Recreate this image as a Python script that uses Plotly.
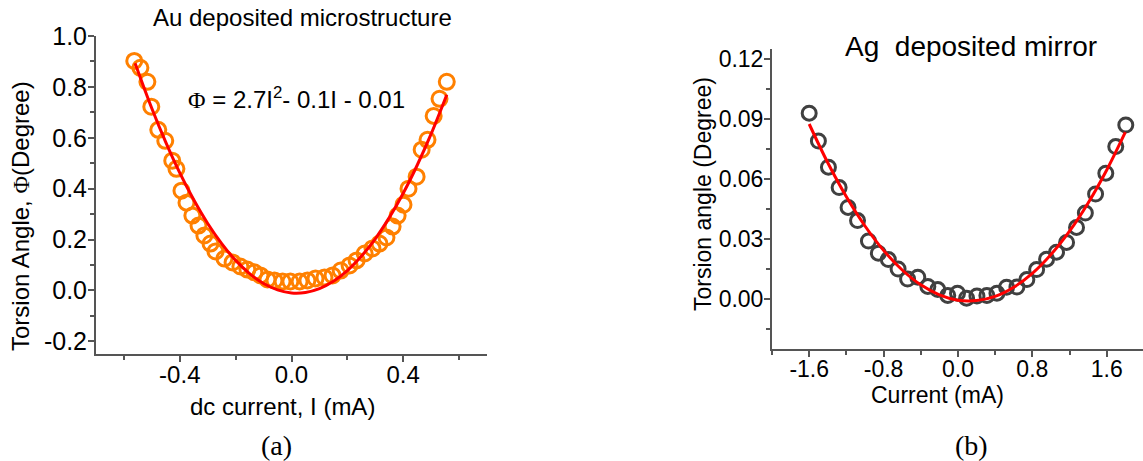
import plotly.graph_objects as go

W, H = 1143, 461

# ---------------- data: (a) Au deposited microstructure ----------------
au_current = [-0.563, -0.541, -0.516, -0.502, -0.477, -0.452, -0.427, -0.412, -0.394, -0.376,
              -0.355, -0.333, -0.312, -0.290, -0.272, -0.240, -0.211, -0.183, -0.158, -0.133,
              -0.111, -0.086, -0.061, -0.032, -0.004, 0.029, 0.057, 0.086, 0.118, 0.147,
              0.176, 0.208, 0.233, 0.262, 0.290, 0.315, 0.340, 0.362, 0.380, 0.401,
              0.419, 0.448, 0.466, 0.487, 0.509, 0.530, 0.556]
au_angle = [0.902, 0.875, 0.820, 0.722, 0.631, 0.588, 0.510, 0.478, 0.392, 0.345,
            0.294, 0.255, 0.216, 0.184, 0.153, 0.125, 0.110, 0.094, 0.082, 0.071,
            0.059, 0.043, 0.039, 0.035, 0.035, 0.035, 0.039, 0.047, 0.051, 0.059,
            0.078, 0.098, 0.118, 0.145, 0.165, 0.184, 0.208, 0.251, 0.294, 0.337,
            0.400, 0.447, 0.553, 0.592, 0.686, 0.753, 0.820]
au_fit_current = [-0.56, -0.50, -0.45, -0.40, -0.35, -0.30, -0.25, -0.20, -0.15, -0.10, -0.05,
                  0.00, 0.05, 0.10, 0.15, 0.20, 0.25, 0.30, 0.35, 0.40, 0.45, 0.50, 0.556]
au_fit_angle = [0.893, 0.715, 0.582, 0.462, 0.356, 0.263, 0.184, 0.118, 0.066, 0.027, 0.002,
                -0.010, -0.008, 0.007, 0.036, 0.078, 0.134, 0.203, 0.286, 0.382, 0.492, 0.615, 0.769]

# ---------------- data: (b) Ag deposited mirror ----------------
ag_current = [-1.600, -1.501, -1.393, -1.278, -1.182, -1.080, -0.963, -0.856, -0.749, -0.644,
              -0.542, -0.432, -0.324, -0.217, -0.110, -0.005, 0.093, 0.204, 0.311, 0.419,
              0.523, 0.634, 0.741, 0.846, 0.953, 1.060, 1.168, 1.275, 1.370, 1.480,
              1.590, 1.697, 1.805]
ag_angle = [0.0929, 0.0790, 0.0659, 0.0557, 0.0458, 0.0392, 0.0290, 0.0229, 0.0197, 0.0150,
            0.0100, 0.0109, 0.0063, 0.0047, 0.0018, 0.0029, 0.0004, 0.0015, 0.0018, 0.0029,
            0.0059, 0.0060, 0.0097, 0.0147, 0.0199, 0.0234, 0.0283, 0.0358, 0.0430, 0.0525,
            0.0629, 0.0762, 0.0870]
ag_fit_current = [-1.6, -1.4, -1.2, -1.0, -0.8, -0.6, -0.4, -0.2, 0.0, 0.2,
                  0.4, 0.6, 0.8, 1.0, 1.2, 1.4, 1.6, 1.8]
ag_fit_angle = [0.0875, 0.0681, 0.0511, 0.0365, 0.0243, 0.0145, 0.0071, 0.0021, -0.0006, -0.0008,
                0.0013, 0.0059, 0.0128, 0.0222, 0.0339, 0.0480, 0.0645, 0.0834]

# tick labels
au_xticks = [-0.4, 0.0, 0.4]
au_xtick_text = ["-0.4", "0.0", "0.4"]
au_yticks = [-0.2, 0.0, 0.2, 0.4, 0.6, 0.8, 1.0]
au_ytick_text = ["-0.2", "0.0", "0.2", "0.4", "0.6", "0.8", "1.0"]
ag_xticks = [-1.6, -0.8, 0.0, 0.8, 1.6]
ag_xtick_text = ["-1.6", "-0.8", "0.0", "0.8", "1.6"]
ag_yticks = [0.0, 0.03, 0.06, 0.09, 0.12]
ag_ytick_text = ["0.00", "0.03", "0.06", "0.09", "0.12"]

SANS = "Liberation Sans, Arial, sans-serif"
SERIF = "Liberation Serif, Times New Roman, serif"
AXC = "#555555"

fig = go.Figure()
fig.add_trace(go.Scatter(x=au_current, y=au_angle, mode="markers", xaxis="x", yaxis="y",
                         marker=dict(symbol="circle-open", size=15, color="#FF8000",
                                     line=dict(width=3, color="#FF8000"))))
fig.add_trace(go.Scatter(x=au_fit_current, y=au_fit_angle, mode="lines", xaxis="x", yaxis="y",
                         line=dict(color="#FF0000", width=3, shape="spline")))
fig.add_trace(go.Scatter(x=ag_current, y=ag_angle, mode="markers", xaxis="x2", yaxis="y2",
                         marker=dict(symbol="circle-open", size=14, color="#404040",
                                     line=dict(width=3, color="#404040"))))
fig.add_trace(go.Scatter(x=ag_fit_current, y=ag_fit_angle, mode="lines", xaxis="x2", yaxis="y2",
                         line=dict(color="#FF0000", width=3, shape="spline")))


def ax(**kw):
    base = dict(showgrid=False, zeroline=False, showline=True, linecolor=AXC, linewidth=2,
                ticks="outside", ticklen=6, tickwidth=2, tickcolor=AXC, automargin=False,
                tickmode="array", fixedrange=True)
    base.update(kw)
    return base


fig.update_layout(
    width=W, height=H,
    margin=dict(l=0, r=0, t=0, b=0),
    paper_bgcolor="white", plot_bgcolor="white",
    showlegend=False,
    xaxis=ax(domain=[96 / W, 487 / W], range=[-0.7, 0.7], anchor="y",
             tickvals=au_xticks, ticktext=au_xtick_text, ticklabelstandoff=-8,
             tickfont=dict(family=SANS, size=24, color="black"),
             minor=dict(tickmode="linear", tick0=0, dtick=0.2, ticks="outside", ticklen=4,
                        tickwidth=2, tickcolor=AXC)),
    yaxis=ax(domain=[1 - 354 / H, 1 - 36 / H], range=[-0.25, 1.0], anchor="x",
             tickvals=au_yticks, ticktext=au_ytick_text, ticklabelstandoff=-4,
             tickfont=dict(family=SANS, size=25, color="black"),
             minor=dict(tickmode="linear", tick0=0, dtick=0.1, ticks="outside", ticklen=4,
                        tickwidth=2, tickcolor=AXC)),
    xaxis2=ax(domain=[772 / W, 1.0], range=[-2.0, 1.99], anchor="y2",
              tickvals=ag_xticks, ticktext=ag_xtick_text, ticklabelstandoff=-8,
              tickfont=dict(family=SANS, size=23, color="black"),
              minor=dict(tickmode="linear", tick0=0, dtick=0.4, ticks="outside", ticklen=4,
                         tickwidth=2, tickcolor=AXC)),
    yaxis2=ax(domain=[1 - 349 / H, 1 - 49 / H], range=[-0.025, 0.125], anchor="x2",
              tickvals=ag_yticks, ticktext=ag_ytick_text, ticklabelstandoff=-4,
              tickfont=dict(family=SANS, size=23, color="black"),
              minor=dict(tickmode="linear", tick0=0, dtick=0.015, ticks="outside", ticklen=4,
                         tickwidth=2, tickcolor=AXC)),
)


def ann(text, px, py, size, family=SANS, angle=0, xanchor="center"):
    fig.add_annotation(text=text, x=px / W, y=1 - py / H, xref="paper", yref="paper",
                       showarrow=False, xanchor=xanchor, yanchor="middle", textangle=angle,
                       font=dict(family=family, size=size, color="black"))


PHI = '<span style="font-family:Liberation Serif, Times New Roman, serif">\u03a6</span>'
ann("Au deposited microstructure", 302, 18, 24)
ann(PHI + " = 2.7I<sup>2</sup>- 0.1I - 0.01", 186, 98, 24, xanchor="left")
ann("Torsion Angle, " + PHI + "(Degree)", 20, 216, 24, angle=-90)
ann("dc current, I (mA)", 282, 406, 24)
ann("(a)", 276, 445, 28, family=SERIF)

ann("Ag\u00a0 deposited mirror", 971, 46, 28)
ann("Torsion angle (Degree)", 703, 194, 23, angle=-90)
ann("Current (mA)", 937, 395, 23)
ann("(b)", 971, 445, 28, family=SERIF)

fig.write_html("out.html")
